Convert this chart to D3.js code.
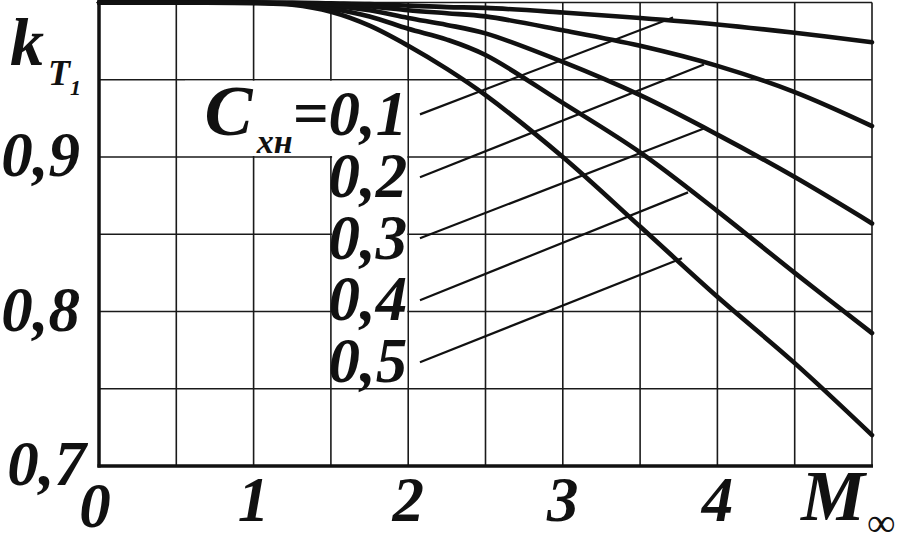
<!DOCTYPE html>
<html>
<head>
<meta charset="utf-8">
<script src="https://cdn.jsdelivr.net/npm/d3@7"></script>
<style>
html,body{margin:0;padding:0;background:#fff;}
svg{display:block;}
text{font-family:"Liberation Serif","Times New Roman",serif;font-weight:bold;font-style:italic;fill:#111;}
</style>
</head>
<body>
<svg id="chart" width="909" height="550"></svg>
<script>
// ---- data ----
const M_VALUES = [0, 0.5, 1, 1.25, 1.5, 1.75, 2, 2.25, 2.5, 3, 3.5, 4, 4.5, 5];
const K_C01 = [1, 1, 1, 1, 0.9995, 0.999, 0.998, 0.997, 0.9965, 0.9935, 0.990, 0.9858, 0.9804, 0.9743];
const K_C02 = [1, 1, 1, 0.9995, 0.999, 0.9975, 0.995, 0.993, 0.991, 0.982, 0.972, 0.959, 0.942, 0.920];
const K_C03 = [1, 1, 1, 0.999, 0.998, 0.995, 0.990, 0.9855, 0.980, 0.9615, 0.940, 0.9145, 0.887, 0.857];
const K_C04 = [1, 1, 1, 0.999, 0.996, 0.991, 0.983, 0.976, 0.966, 0.935, 0.903, 0.865, 0.825, 0.786];
const K_C05 = [1, 1, 0.9995, 0.9985, 0.994, 0.985, 0.972, 0.957, 0.940, 0.900, 0.855, 0.8095, 0.7666, 0.720];
const SERIES = [K_C01, K_C02, K_C03, K_C04, K_C05];
const C_LABELS = ["0,1", "0,2", "0,3", "0,4", "0,5"];
// leader lines: from label (M,k) to point on curve (M,k)
const LEADER_FROM = [[2.076, 0.9276], [2.076, 0.8869], [2.076, 0.8474], [2.076, 0.8073], [2.076, 0.7672]];
const LEADER_TO = [[3.713, 0.9903], [3.913, 0.9599], [3.913, 0.9185], [3.810, 0.8771], [3.771, 0.8345]];
const X_TICKS = [0, 1, 2, 3, 4];
const X_TICK_LABELS = ["0", "1", "2", "3", "4"];
const Y_TICKS = [0.9, 0.8, 0.7];
const Y_TICK_LABELS = ["0,9", "0,8", "0,7"];
const X_GRID = [0, 0.5, 1, 1.5, 2, 2.5, 3, 3.5, 4, 4.5, 5];
const Y_GRID = [0.7, 0.75, 0.8, 0.85, 0.9, 0.95, 1.0];

// ---- layout ----
const svg = d3.select("#chart");
const x = d3.scaleLinear().domain([0, 5]).range([99, 872]);
const y = d3.scaleLinear().domain([0.7, 1.0]).range([466, 2.5]);

// grid
const grid = svg.append("g").attr("stroke", "#1a1a1a").attr("stroke-width", 1.6);
grid.selectAll("line.v").data(X_GRID).join("line")
  .attr("x1", d => x(d)).attr("x2", d => x(d))
  .attr("y1", y(1.0)).attr("y2", y(0.7));
grid.selectAll("line.h").data(Y_GRID).join("line")
  .attr("x1", x(0)).attr("x2", x(5))
  .attr("y1", d => y(d)).attr("y2", d => y(d));

// white label backgrounds
const bgRight = x(2) - 1;
svg.append("rect").attr("x", 185).attr("y", y(0.95) + 1)
  .attr("width", bgRight - 185).attr("height", y(0.9) - y(0.95) - 2).attr("fill", "#fff");
svg.append("rect").attr("x", x(1.5) + 1.2).attr("y", y(0.9) - 1)
  .attr("width", bgRight - x(1.5) - 1.2).attr("height", y(0.75) - y(0.9)).attr("fill", "#fff");

// axes (thick)
svg.append("line").attr("x1", x(0)).attr("x2", x(0)).attr("y1", y(1.0)).attr("y2", y(0.7) + 1.5)
  .attr("stroke", "#111").attr("stroke-width", 3.5);
svg.append("line").attr("x1", x(0) - 1.5).attr("x2", x(5) + 1).attr("y1", y(0.7)).attr("y2", y(0.7))
  .attr("stroke", "#111").attr("stroke-width", 3.5);

// curves
const line = d3.line().x(d => x(d[0])).y(d => y(d[1])).curve(d3.curveCatmullRom.alpha(0.5));
svg.append("g").selectAll("path").data(SERIES).join("path")
  .attr("d", s => line(M_VALUES.map((m, i) => [m, s[i]])))
  .attr("fill", "none").attr("stroke", "#111").attr("stroke-width", 4.6)
  .attr("stroke-linecap", "round");

// leader lines
svg.append("g").selectAll("line").data(LEADER_FROM).join("line")
  .attr("x1", d => x(d[0])).attr("y1", d => y(d[1]))
  .attr("x2", (d, i) => x(LEADER_TO[i][0])).attr("y2", (d, i) => y(LEADER_TO[i][1]))
  .attr("stroke", "#111").attr("stroke-width", 2.2);

// curve labels
const labelX = bgRight;
C_LABELS.forEach((lab, i) => {
  const t = svg.append("text").attr("x", labelX).attr("y", 135 + i * 61.8)
    .attr("text-anchor", "end").attr("font-size", 63);
  if (i === 0) {
    t.append("tspan").attr("font-size", 72).text("C");
    t.append("tspan").attr("font-size", 34).attr("dy", 18).attr("dx", 4).text("хн");
    t.append("tspan").attr("dy", -18).text("=" + lab);
  } else {
    t.text(lab);
  }
});

// y tick labels
svg.append("g").selectAll("text").data(Y_TICKS).join("text")
  .attr("x", (d, i) => i === 2 ? 86 : 80).attr("y", d => y(d) + 19)
  .attr("text-anchor", "end").attr("font-size", 63)
  .text((d, i) => Y_TICK_LABELS[i]);

// x tick labels
svg.append("g").selectAll("text").data(X_TICKS).join("text")
  .attr("x", d => x(d) + (d === 0 ? -4 : 0)).attr("y", d => d === 0 ? 527 : 521)
  .attr("text-anchor", "middle").attr("font-size", 63)
  .text((d, i) => X_TICK_LABELS[i]);

// axis titles
const yt = svg.append("text").attr("x", 10).attr("y", 65).attr("font-size", 68);
yt.append("tspan").text("k");
yt.append("tspan").attr("font-size", 36).attr("dy", 20).attr("dx", 4).text("T");
yt.append("tspan").attr("font-size", 22).attr("dy", 10).text("1");

const xt = svg.append("text").attr("x", 801).attr("y", 520).attr("font-size", 72);
xt.append("tspan").text("M");
xt.append("tspan").attr("font-size", 40).attr("font-weight", "normal").attr("font-style", "normal")
  .attr("dy", 16).attr("dx", 2).text("∞");
</script>
</body>
</html>
